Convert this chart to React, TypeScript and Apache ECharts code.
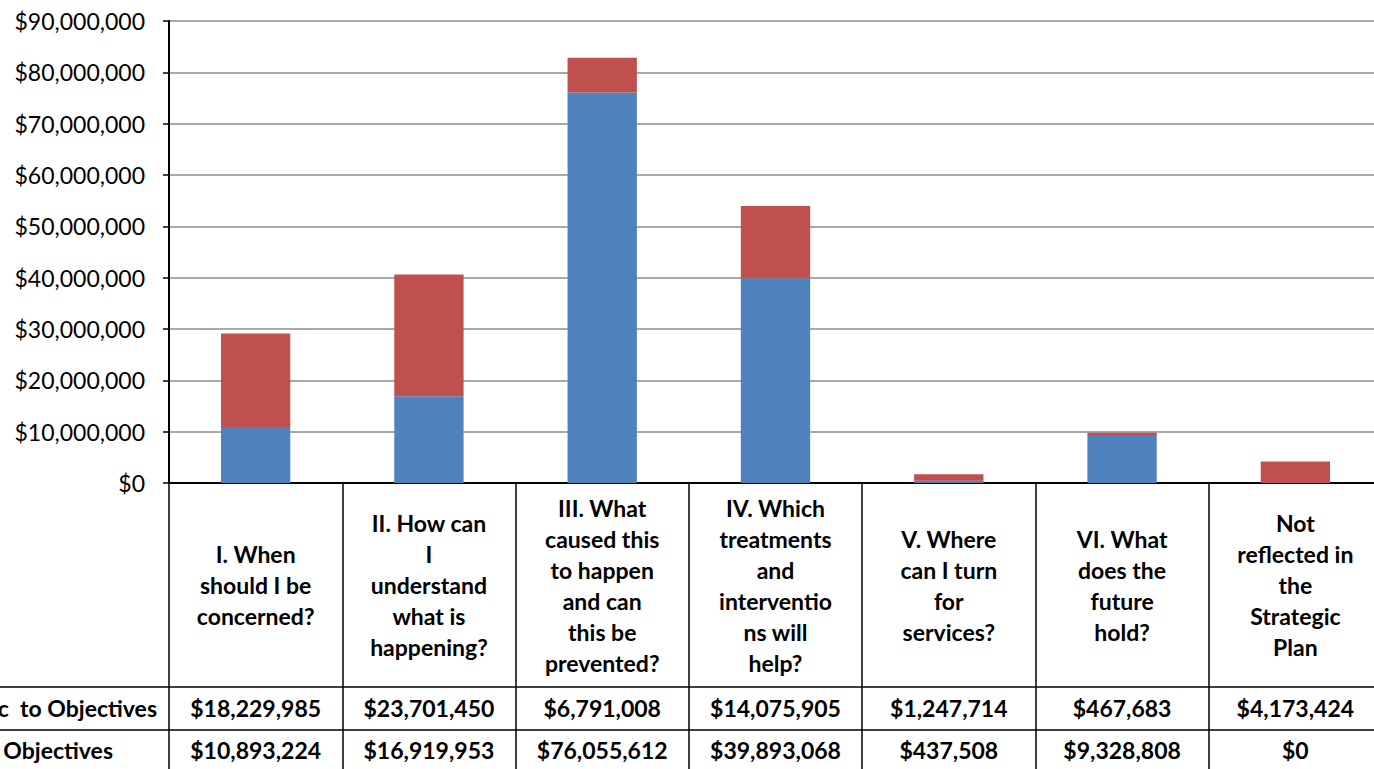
import React, { useEffect, useRef } from "react";
import * as echarts from "echarts";

const categories = [
  "I. When\nshould I be\nconcerned?",
  "II. How can\nI\nunderstand\nwhat is\nhappening?",
  "III. What\ncaused this\nto happen\nand can\nthis be\nprevented?",
  "IV. Which\ntreatments\nand\ninterventio\nns will\nhelp?",
  "V. Where\ncan I turn\nfor\nservices?",
  "VI. What\ndoes the\nfuture\nhold?",
  "Not\nreflected in\nthe\nStrategic\nPlan",
];

const seriesNames = ["Specific to\u2003Objectives", "Not Specific  to Objectives"];
const specificValues = [10893224, 16919953, 76055612, 39893068, 437508, 9328808, 0];
const notSpecificValues = [18229985, 23701450, 6791008, 14075905, 1247714, 467683, 4173424];

const yTicks = { min: 0, max: 90000000, interval: 10000000 };

const money = (v: number) => "$" + Math.round(v).toLocaleString("en-US");

const FONT = "Lato";
const BOLD_SIZE = 23;

export default function App() {
  const ref = useRef<HTMLDivElement>(null);
  useEffect(() => {
    if (!ref.current) return;
    const chart = echarts.init(ref.current, undefined, { renderer: "svg" });
    const gridLeft = 169;
    const gridTop = 21;
    const plotBottom = 483;
    const H = 769;
    const row1Mid = 708;
    const row2Mid = 750;
    const valueLabel = (arr: number[], margin: number) => ({
      type: "category",
      data: categories,
      position: "bottom",
      axisLine: { show: false },
      axisTick: { show: false },
      splitLine: { show: false },
      axisLabel: {
        interval: 0,
        margin,
        verticalAlign: "middle",
        fontFamily: FONT,
        fontWeight: "bold",
        fontSize: BOLD_SIZE,
        color: "#000",
        formatter: (_v: string, i: number) => money(arr[i]),
      },
    });
    chart.setOption({
      animation: false,
      backgroundColor: "#fff",
      grid: {
        left: gridLeft,
        right: 0,
        top: gridTop,
        bottom: H - plotBottom,
        containLabel: false,
      },
      xAxis: [
        {
          type: "category",
          data: categories,
          position: "bottom",
          axisLine: { show: true, lineStyle: { color: "#000", width: 2 } },
          axisTick: {
            show: true,
            interval: 0,
            alignWithLabel: false,
            length: H - plotBottom + 10,
            lineStyle: { color: "#000", width: 1.5 },
          },
          splitLine: { show: false },
          axisLabel: {
            interval: 0,
            margin: 102,
            verticalAlign: "middle",
            align: "center",
            lineHeight: 31,
            fontFamily: FONT,
            fontWeight: "bold",
            fontSize: BOLD_SIZE,
            color: "#000",
          },
        },
        valueLabel(notSpecificValues, row1Mid - plotBottom),
        valueLabel(specificValues, row2Mid - plotBottom),
      ],
      yAxis: {
        type: "value",
        min: yTicks.min,
        max: yTicks.max,
        interval: yTicks.interval,
        axisLine: { show: true, lineStyle: { color: "#000", width: 2 } },
        axisTick: { show: true, length: 6, lineStyle: { color: "#000", width: 1.5 } },
        splitLine: { show: true, lineStyle: { color: "#8c8c8c", width: 1.5 } },
        axisLabel: {
          margin: 24,
          fontFamily: FONT,
          fontSize: 23,
          color: "#000",
          formatter: (v: number) => money(v),
        },
      },
      series: [
        {
          name: seriesNames[0],
          type: "bar",
          stack: "total",
          data: specificValues,
          barWidth: "40%",
          itemStyle: { color: "#4F81BD" },
        },
        {
          name: seriesNames[1],
          type: "bar",
          stack: "total",
          data: notSpecificValues,
          barWidth: "40%",
          itemStyle: { color: "#C0504D" },
        },
      ],
      graphic: [
        {
          type: "line",
          shape: { x1: 0, y1: 687, x2: 1382, y2: 687 },
          style: { stroke: "#000", lineWidth: 1.5 },
        },
        {
          type: "line",
          shape: { x1: 0, y1: 730, x2: 1382, y2: 730 },
          style: { stroke: "#000", lineWidth: 1.5 },
        },
        {
          type: "text",
          x: 157,
          y: row1Mid,
          style: {
            text: seriesNames[1],
            align: "right",
            verticalAlign: "middle",
            font: `bold ${BOLD_SIZE}px ${FONT}`,
            fill: "#000",
          },
        },
        {
          type: "text",
          x: 113,
          y: row2Mid,
          style: {
            text: seriesNames[0],
            align: "right",
            verticalAlign: "middle",
            font: `bold ${BOLD_SIZE}px ${FONT}`,
            fill: "#000",
          },
        },
      ],
    });
    return () => chart.dispose();
  }, []);
  return (
    <div
      ref={ref}
      style={{ position: "fixed", left: 0, top: 0, width: 1382, height: 769, background: "#fff" }}
    />
  );
}
